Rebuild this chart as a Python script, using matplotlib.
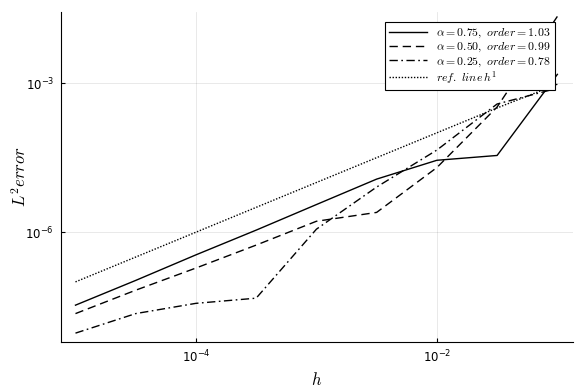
import matplotlib
matplotlib.use("Agg")
import matplotlib.pyplot as plt
from matplotlib.ticker import FixedLocator, LogFormatterSciNotation, NullLocator

plt.rcParams['mathtext.fontset'] = 'cm'

# step sizes (half decades from 1e-5 to 1e-1)
h = [1e-5, 3.16e-5, 1e-4, 3.16e-4, 1e-3, 3.16e-3, 1e-2, 3.16e-2, 1e-1]

# L2 errors
err_075 = [3.4e-8, 1.07e-7, 3.5e-7, 1.1e-6, 3.6e-6, 1.17e-5, 2.8e-5, 3.5e-5, 1.5e-3]
err_050 = [2.3e-8, 6.8e-8, 1.9e-7, 5.5e-7, 1.66e-6, 2.5e-6, 2.0e-5, 3.3e-4, 2.2e-2]
err_025 = [9.3e-9, 2.3e-8, 3.7e-8, 4.7e-8, 1.15e-6, 8.1e-6, 4.5e-5, 3.8e-4, 7.9e-4]
ref_h1 = [1.0e-7, 3.16e-7, 1.0e-6, 3.16e-6, 1.0e-5, 3.16e-5, 1.0e-4, 3.16e-4, 9.5e-4]

labels = [r'$\alpha = 0.75,\ order = 1.03$',
          r'$\alpha = 0.50,\ order = 0.99$',
          r'$\alpha = 0.25,\ order = 0.78$',
          r'$ref.\ line\, h^1$']

fig = plt.figure(figsize=(5.84, 3.89), dpi=100)
ax = fig.add_axes([0.1045, 0.1208, 0.8765, 0.8482])

ax.plot(h, err_075, color='black', lw=1.0, label=labels[0])
ax.plot(h, err_050, color='black', lw=1.0, linestyle=(0, (6, 3.5)), label=labels[1])
ax.plot(h, err_025, color='black', lw=1.0, linestyle=(0, (6, 2.5, 1.2, 2.5)), label=labels[2])
ax.plot(h, ref_h1, color='black', lw=1.0, linestyle=(0, (1, 1.2)), label=labels[3])

ax.set_xscale('log')
ax.set_yscale('log')
ax.set_xlim(10**-5.12, 10**-0.871)
ax.set_ylim(10**-8.21, 10**-1.57)

ax.xaxis.set_major_locator(FixedLocator([1e-4, 1e-2]))
ax.yaxis.set_major_locator(FixedLocator([1e-6, 1e-3]))
ax.xaxis.set_major_formatter(LogFormatterSciNotation())
ax.yaxis.set_major_formatter(LogFormatterSciNotation())
ax.xaxis.set_minor_locator(NullLocator())
ax.yaxis.set_minor_locator(NullLocator())
ax.tick_params(direction='in', length=3, width=0.8, labelsize=8.5, pad=5)

ax.grid(True, color='black', alpha=0.1, lw=0.6)
ax.spines['top'].set_visible(False)
ax.spines['right'].set_visible(False)

ax.set_xlabel(r'$h$', fontsize=12)
ax.set_ylabel(r'$L^2 error$', fontsize=12, labelpad=-3)

leg = ax.legend(loc='upper right', bbox_to_anchor=(0.965, 0.97), borderaxespad=0,
                fontsize=8.5, fancybox=False, edgecolor='black', framealpha=1,
                handlelength=3.2, labelspacing=0.0, borderpad=0.35)
leg.get_frame().set_linewidth(0.8)

fig.savefig('out.png', dpi=100)
